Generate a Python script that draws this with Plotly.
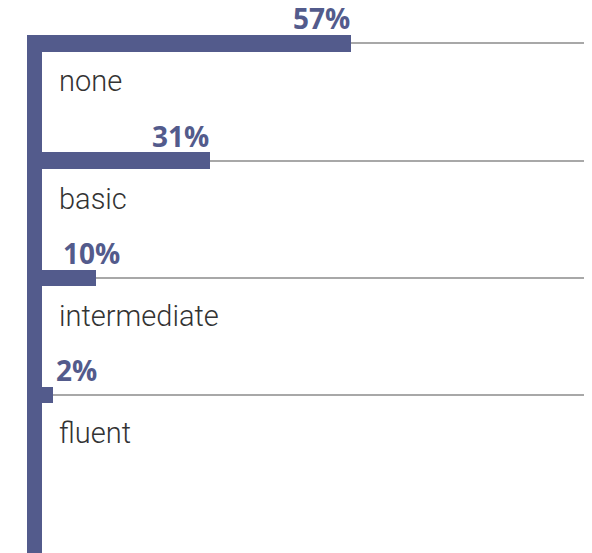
import plotly.graph_objects as go

categories = ["none", "basic", "intermediate", "fluent"]
values = [57, 31, 10, 2]
value_labels = ["57%", "31%", "10%", "2%"]

BAR = "#535b8c"
LABEL_SHIFT = [0, 0, 25, 45]

fig = go.Figure()
fig.add_trace(go.Bar(
    x=values, y=categories, orientation="h", width=0.14,
    marker=dict(color=BAR, line=dict(width=0)), hoverinfo="skip",
))

for cat, v, lab, sh in zip(categories, values, value_labels, LABEL_SHIFT):
    fig.add_annotation(x=v, y=cat, xref="x", yref="y", text=lab, showarrow=False,
                       xanchor="right", yanchor="middle", xshift=sh, yshift=25,
                       borderpad=0,
                       font=dict(family="Open Sans", size=28, color=BAR, weight=700))
    fig.add_annotation(x=0, y=cat, xref="x", yref="y", text=cat, showarrow=False,
                       xanchor="left", yanchor="middle", xshift=16, yshift=-38,
                       borderpad=0,
                       font=dict(family="Roboto", size=29, color="#333333", weight=300))

fig.update_layout(
    width=592, height=553,
    margin=dict(l=34, r=16, t=27, b=8),
    paper_bgcolor="white", plot_bgcolor="white",
    showlegend=False, bargap=0,
    xaxis=dict(range=[0, 100], visible=False, fixedrange=True),
    yaxis=dict(type="category", categoryarray=categories, range=[4.345, -0.0707],
               showticklabels=False, ticks="", showgrid=True, gridcolor="#a8a8a8",
               gridwidth=1.5, showline=True, linewidth=15, linecolor=BAR,
               zeroline=False, fixedrange=True),
)

fig.write_html("out.html")
